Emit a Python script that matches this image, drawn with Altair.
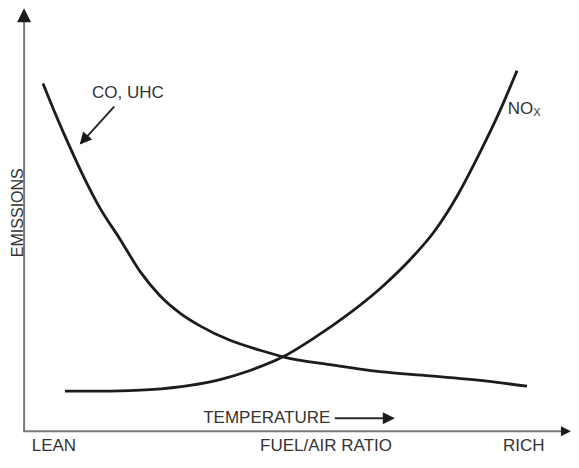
import altair as alt
import pandas as pd

# Curves (fuel/air ratio on a 0-100 scale, emissions on a 0-100 scale)
co_x = [3.66, 6.04, 8.61, 11.36, 14.10, 17.77, 21.43, 25.09, 28.75, 32.42, 37.91, 43.41,
        47.62, 56.23, 65.38, 74.54, 85.00, 92.31]
co_y = [84.4, 76.7, 68.9, 61.1, 54.2, 46.7, 38.9, 33.0, 28.8, 25.7, 22.2, 19.8,
        18.2, 16.3, 14.6, 13.6, 12.3, 11.1]
nox_x = [7.69, 15.93, 23.26, 30.59, 36.08, 41.58, 47.62, 53.48, 59.34, 65.38, 70.88,
         75.46, 79.49, 83.70, 87.36, 90.48]
nox_y = [9.9, 9.9, 10.26, 11.3, 12.7, 14.9, 18.2, 22.9, 28.3, 34.7, 41.7,
         48.8, 57.1, 67.7, 77.8, 87.5]

# Axis-line segments and annotation arrows (data units)
axis_x1 = [0.2, 0.0]
axis_y1 = [0.0, 0.2]
axis_x2 = [0.2, 98.7]
axis_y2 = [99.3, 0.2]

arrow_line_x1 = [16.7, 57.1]
arrow_line_y1 = [78.8, 3.3]
arrow_line_x2 = [10.6, 66.0]
arrow_line_y2 = [69.9, 3.3]

head_x = [0.2, 100.35, 10.4, 68.1]
head_y = [102.6, 0.2, 69.6, 3.3]
head_angle = [0, 90, 221, 90]
head_size = [196, 100, 144, 144]

# Texts
label_text = ["CO, UHC", "TEMPERATURE", "LEAN", "FUEL/AIR RATIO", "RICH"]
label_x = [19.2, 33.0, 1.6, 55.5, 87.9]
label_y = [82.1, 3.3, -3.4, -3.4, -3.4]
label_align = ["center", "left", "left", "center", "left"]

nox_label_x = [88.8]
nox_label_y = [78.3]
ylabel_text = ["EMISSIONS"]
ylabel_x = [-0.97]
ylabel_y = [53.1]

FONT = "Liberation Sans"
INK = "#1c1c1c"
TXT = "#333333"
AXIS = "#7a7a7a"

xs = alt.Scale(domain=[0, 100], nice=False, zero=False)
ys = alt.Scale(domain=[0, 100], nice=False, zero=False)


def enc(ch, **kw):
    return ch.encode(
        x=alt.X("x:Q", scale=xs, axis=None),
        y=alt.Y("y:Q", scale=ys, axis=None),
        **kw,
    )


co_df = pd.DataFrame({"x": co_x, "y": co_y})
nox_df = pd.DataFrame({"x": nox_x, "y": nox_y})

co_line = enc(alt.Chart(co_df).mark_line(color=INK, strokeWidth=2.8, interpolate="monotone"), order="x:Q")
nox_line = enc(alt.Chart(nox_df).mark_line(color=INK, strokeWidth=2.8, interpolate="monotone"), order="x:Q")

axis_df = pd.DataFrame({"x": axis_x1, "y": axis_y1, "x2": axis_x2, "y2": axis_y2})
axes = enc(alt.Chart(axis_df).mark_rule(color=AXIS, strokeWidth=2), x2="x2:Q", y2="y2:Q")

arr_df = pd.DataFrame({"x": arrow_line_x1, "y": arrow_line_y1, "x2": arrow_line_x2, "y2": arrow_line_y2})
arrow_lines = enc(alt.Chart(arr_df).mark_rule(color="#2a2a2a", strokeWidth=2), x2="x2:Q", y2="y2:Q")

head_df = pd.DataFrame({"x": head_x, "y": head_y, "angle": head_angle, "size": head_size})
heads = enc(
    alt.Chart(head_df).mark_point(
        shape="M0,0L1,2L-1,2Z", filled=True, opacity=1, color="#1a1a1a", strokeWidth=0
    ),
    angle=alt.Angle("angle:Q", scale=None),
    size=alt.Size("size:Q", scale=None),
)

lab_df = pd.DataFrame({"t": label_text, "x": label_x, "y": label_y, "a": label_align})
layers = [axes, co_line, nox_line, arrow_lines, heads]
for al in ["center", "left"]:
    sub = lab_df[lab_df["a"] == al]
    layers.append(
        enc(alt.Chart(sub).mark_text(font=FONT, fontSize=17, color=TXT, align=al, baseline="middle"),
            text="t:N")
    )

nox_df_lab = pd.DataFrame({"x": nox_label_x, "y": nox_label_y})
layers.append(
    enc(alt.Chart(nox_df_lab).mark_text(font=FONT, fontSize=17, color=TXT, align="left",
                                        baseline="middle", text="NO"))
)
layers.append(
    enc(alt.Chart(nox_df_lab).mark_text(font=FONT, fontSize=11, color=TXT, align="left",
                                        baseline="middle", text="X", dx=25.5, dy=4))
)

yl_df = pd.DataFrame({"t": ylabel_text, "x": ylabel_x, "y": ylabel_y})
layers.append(
    enc(alt.Chart(yl_df).mark_text(font=FONT, fontSize=16, color=TXT, align="center",
                                   baseline="middle", angle=270),
        text="t:N")
)

chart = alt.layer(*layers).properties(
    width=546,
    height=413,
    autosize="none",
    padding={"left": 15, "top": 11, "right": 2, "bottom": 23},
    background="white",
).configure_view(strokeWidth=0)

chart.save("out.html", embed_options={"renderer": "svg", "actions": False})
